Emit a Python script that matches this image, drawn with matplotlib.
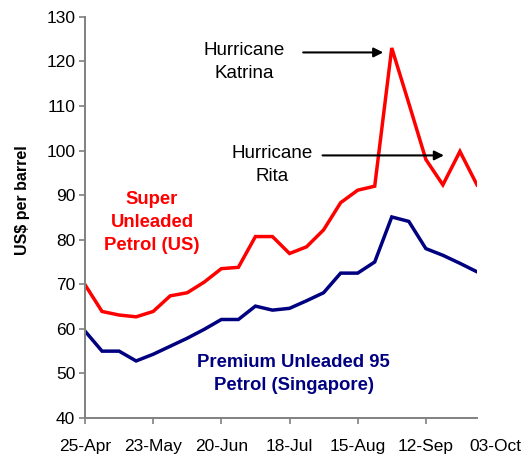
import numpy as np
import matplotlib
matplotlib.use("Agg")
from matplotlib import pyplot as plt

plt.rcParams['font.family'] = ['Liberation Sans', 'DejaVu Sans']

# weekly, 25-Apr .. 03-Oct
weeks = np.arange(24)
tick_labels = ["25-Apr", "23-May", "20-Jun", "18-Jul", "15-Aug", "12-Sep"]
last_label = "03-Oct"
us_petrol = [69.9, 63.9, 63.1, 62.7, 63.9, 67.4, 68.1, 70.5, 73.5, 73.8,
             80.7, 80.7, 76.9, 78.4, 82.2, 88.3, 91.1, 92.0, 123.0, 110.6,
             98.0, 92.3, 99.8, 92.3]
sg_petrol = [59.5, 55.0, 55.0, 52.8, 54.3, 56.1, 57.9, 59.9, 62.1, 62.1,
             65.1, 64.2, 64.6, 66.3, 68.1, 72.5, 72.5, 75.0, 85.1, 84.1,
             78.0, 76.5, 74.7, 72.8]

fig = plt.figure(figsize=(5.23, 4.57), dpi=100)
ax = fig.add_axes([0.1625, 0.0853, 0.7495, 0.878])

ax.plot(weeks, us_petrol, color="#ff0000", lw=2.5, solid_joinstyle="miter")
ax.plot(weeks, sg_petrol, color="#000080", lw=2.5, solid_joinstyle="miter")

ax.set_xlim(0, 23)
ax.set_ylim(40, 130)
ax.set_yticks(np.arange(40, 131, 10))
ax.set_xticks(np.arange(0, 24, 4))
ax.set_xticklabels(tick_labels)
ax.tick_params(axis="both", labelsize=12.5, colors="#808080", labelcolor="black",
               length=4, width=1.2)
ax.tick_params(axis="x", pad=11)
ax.tick_params(axis="y", pad=3)
for s in ["top", "right"]:
    ax.spines[s].set_visible(False)
for s in ["left", "bottom"]:
    ax.spines[s].set_color("#808080")
    ax.spines[s].set_linewidth(1.4)

# last date label sits lower, outside the tick row
ax.text(24.1, 33.5, last_label, fontsize=12.5, ha="center", va="center",
        clip_on=False)

fig.text(22.7 / 523, 1 - 200.5 / 457, "US$ per barrel", rotation=90,
         fontsize=11.5, fontweight="bold", ha="center", va="center")

ax.text(3.94, 83.8, "Super\nUnleaded\nPetrol (US)", color="#ff0000",
        fontsize=13.3, fontweight="bold", ha="center", va="center", linespacing=1.45)
ax.text(12.24, 49.9, "Premium Unleaded 95\nPetrol (Singapore)", color="#000080",
        fontsize=13.3, fontweight="bold", ha="center", va="center", linespacing=1.5)

ax.text(9.35, 119.8, "Hurricane\nKatrina", fontsize=13.5, ha="center", va="center",
        linespacing=1.5)
ax.annotate("", xy=(17.5, 122.0), xytext=(12.8, 122.0),
            arrowprops=dict(arrowstyle="-|>", color="black", lw=1.5,
                            mutation_scale=14, shrinkA=0, shrinkB=0))
ax.text(11.0, 96.8, "Hurricane\nRita", fontsize=13.5, ha="center", va="center",
        linespacing=1.5)
ax.annotate("", xy=(21.06, 98.9), xytext=(13.94, 98.9),
            arrowprops=dict(arrowstyle="-|>", color="black", lw=1.5,
                            mutation_scale=14, shrinkA=0, shrinkB=0))

fig.savefig("out.png", dpi=100)
